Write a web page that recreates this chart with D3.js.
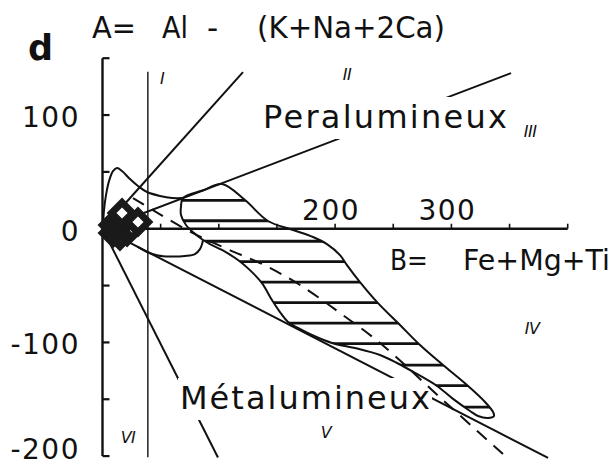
<!DOCTYPE html>
<html>
<head>
<meta charset="utf-8">
<script src="https://cdn.jsdelivr.net/npm/d3@7"></script>
<style>
  html, body { margin: 0; padding: 0; background: #fff; }
  svg { display: block; }
  text { font-family: "DejaVu Sans", Verdana, sans-serif; fill: #111; }
</style>
</head>
<body>
<svg id="chart" width="615" height="467"></svg>
<script>
// ---- Axis ticks (B = Fe+Mg+Ti, A = Al-(K+Na+2Ca)) ----
const yTicks = [150, 100, 50, 0, -50, -100, -150, -200];
const yTickLabels = [100, 0, -100, -200];
const xTicks = [50, 100, 150, 200, 250, 300, 350, 400];
const xTickLabels = [200, 300];

// ---- Sector boundaries, rays from the origin [B, A] ----
const sectorRays = [
  [120.8, 137.8],   // I / II
  [351.3, 136.9],   // II / III
  [383.1, -201.6],  // IV / V
  [99.3, -201.2]    // V / VI
];
// vertical limit of sector I / VI
const leucoLimitB = 39;
const leucoLimitA = [138, -201];

// ---- Sector numerals and their anchors [B, A] ----
const sectorNames = ["I", "II", "III", "IV", "V", "VI"];
const sectorAnchors = [[51.2, 132.5], [210.2, 136], [367.6, 86], [369.4, -88], [192.2, -178.8], [21.9, -183.2]];

// ---- Hatched field (outline as [B, A]) ----
const hatchedField = [
  [69.2, 27.0], [86.0, 33.6], [102.7, 39.3], [122.5, 25.2], [142.3, 6.8], [163.8, -1.1],
  [181.0, -7.3], [193.0, -13.5], [204.2, -23.2], [210.2, -32.0], [221.4, -47.0],
  [236.9, -65.5], [255.8, -84.7], [273.0, -102.3], [292.8, -119.9], [313.4, -137.5],
  [328.9, -152.4], [335.8, -161.2], [336.6, -164.7], [331.5, -166.5], [322.9, -164.7],
  [316.0, -160.3], [301.4, -149.7], [287.6, -138.3], [268.7, -126.8], [253.2, -118.1],
  [238.6, -111.1], [217.1, -104.9], [197.3, -100.5], [180.1, -93.5], [168.1, -87.3],
  [159.5, -82.0], [152.6, -73.3], [145.7, -62.7], [137.1, -47.8], [126.8, -36.4],
  [116.5, -27.5], [102.7, -18.7], [92.4, -13.5], [86.4, -9.9], [78.7, -3.8],
  [71.8, 3.3], [67.5, 12.0], [67.5, 19.9]
];
const hatchLevels = [25, 7, -11, -29, -47, -65, -83, -101, -120, -138, -157];

// ---- Envelope lobes joining the hatched field ----
const upperLobe = [
  [0.4, 2.4], [1.3, 16.4], [3.0, 29.6], [5.6, 41.9], [9.0, 50.7], [12.5, 53.4],
  [16.8, 50.7], [23.6, 43.7], [30.5, 37.6], [38.3, 32.3], [49.4, 28.8], [59.8, 27.0], [69.2, 27.0]
];
const lowerLobe = [
  [30.0, -15.8], [38.3, -20.5], [47.7, -23.6], [58.0, -24.5], [70.9, -24.0],
  [79.5, -22.3], [83.8, -17.9], [85.6, -13.5], [86.4, -9.9]
];

// ---- Trend (dashed) ----
const trend = [
  [26.2, 27.0], [72.7, -1.1], [105.3, -17.0], [137.1, -31.0], [169.8, -49.5],
  [204.2, -74.1], [238.6, -100.5], [294.5, -152.4], [344.4, -198.2]
];

// ---- Leucogranite samples [B, A]; the last two sit on top of the cluster ----
const samples = [
  [9.0, 3.3], [9.0, -3.8], [11.6, -0.3], [15.0, -6.4], [21.1, -2.9],
  [16.8, 13.8], [30.5, 5.9]
];

// ------------------------------------------------------------
const svg = d3.select("#chart");
svg.append("rect").attr("width", 615).attr("height", 467).attr("fill", "#fff");

const x = d3.scaleLinear().domain([0, 400]).range([102.5, 567.7]);
const y = d3.scaleLinear().domain([-200, 150]).range([456.1, 58.2]);

const line = d3.line().x(d => x(d[0])).y(d => y(d[1]));
const smooth = d3.line().x(d => x(d[0])).y(d => y(d[1])).curve(d3.curveCatmullRom.alpha(0.5));
const smoothClosed = d3.line().x(d => x(d[0])).y(d => y(d[1])).curve(d3.curveCatmullRomClosed.alpha(0.5));

// sector rays
const rays = svg.append("g").attr("stroke", "#111").attr("stroke-width", 2).attr("fill", "none");
sectorRays.forEach(end => rays.append("path").attr("d", line([[0, 0], end])));
rays.append("line")
  .attr("x1", x(leucoLimitB)).attr("x2", x(leucoLimitB))
  .attr("y1", y(leucoLimitA[0])).attr("y2", y(leucoLimitA[1]))
  .attr("stroke-width", 1.4);

// domain labels with a white backing that interrupts the rays
function boxedLabel(txt, px, py, size, len) {
  const g = svg.append("g");
  const t = g.append("text").attr("x", px).attr("y", py)
    .attr("font-size", size).attr("textLength", len).attr("lengthAdjust", "spacing").text(txt);
  const b = t.node().getBBox();
  g.insert("rect", "text").attr("x", b.x - 2).attr("y", b.y - 1)
    .attr("width", b.width + 4).attr("height", b.height + 4).attr("fill", "#fff");
}
boxedLabel("Peralumineux", 263, 128, 32, 244);
boxedLabel("Métalumineux", 180, 409, 32, 250);

// sector numerals
svg.append("g").selectAll("text").data(sectorNames).join("text")
  .attr("x", (d, i) => x(sectorAnchors[i][0]))
  .attr("y", (d, i) => y(sectorAnchors[i][1]))
  .attr("dy", "0.35em").attr("text-anchor", "middle")
  .attr("font-size", 16).attr("font-style", "italic").attr("letter-spacing", -0.5)
  .text(d => d);

// hatched field
svg.append("clipPath").attr("id", "fieldClip")
  .append("path").attr("d", smoothClosed(hatchedField));
svg.append("g").attr("clip-path", "url(#fieldClip)")
  .selectAll("line").data(hatchLevels).join("line")
  .attr("x1", x(0)).attr("x2", x(400))
  .attr("y1", d => y(d)).attr("y2", d => y(d))
  .attr("stroke", "#111").attr("stroke-width", 2.8);
svg.append("path").attr("d", smoothClosed(hatchedField))
  .attr("fill", "none").attr("stroke", "#111").attr("stroke-width", 2);

// envelope lobes
[upperLobe, lowerLobe].forEach(p =>
  svg.append("path").attr("d", smooth(p))
    .attr("fill", "none").attr("stroke", "#111").attr("stroke-width", 2));

// dashed trend
svg.append("path").attr("d", smooth(trend))
  .attr("fill", "none").attr("stroke", "#111").attr("stroke-width", 2)
  .attr("stroke-dasharray", "13,9");

// axes
const axes = svg.append("g").attr("stroke", "#111").attr("fill", "none");
axes.append("line").attr("x1", x(0)).attr("x2", x(0))
  .attr("y1", y(150)).attr("y2", y(-200)).attr("stroke-width", 2.4);
axes.selectAll(".yt").data(yTicks).join("line")
  .attr("x1", x(0)).attr("x2", x(0) + 7)
  .attr("y1", d => y(d)).attr("y2", d => y(d)).attr("stroke-width", 2.2);
axes.append("line").attr("x1", x(0)).attr("x2", x(400))
  .attr("y1", y(0)).attr("y2", y(0)).attr("stroke-width", 2.4);
axes.selectAll(".xt").data(xTicks).join("line")
  .attr("x1", d => x(d)).attr("x2", d => x(d))
  .attr("y1", y(0)).attr("y2", y(0) - 5).attr("stroke-width", 1.6);

svg.append("g").selectAll("text").data(yTickLabels).join("text")
  .attr("x", 80).attr("y", d => Math.min(y(d) + 12, 459))
  .attr("text-anchor", "end").attr("font-size", 28).attr("letter-spacing", 1.5)
  .text(d => d < 0 ? "-" + Math.abs(d) : d);
svg.append("g").selectAll("text").data(xTickLabels).join("text")
  .attr("x", d => x(d) - 4).attr("y", 220)
  .attr("text-anchor", "middle").attr("font-size", 28).attr("letter-spacing", 1.5)
  .text(d => d);

// samples: open diamonds, dense enough to merge into a dark cluster
svg.append("g").selectAll("path").data(samples).join("path")
  .attr("d", d3.symbol(d3.symbolSquare, 220))
  .attr("transform", d => `translate(${x(d[0])},${y(d[1])}) rotate(45)`)
  .attr("fill", (d, i) => i >= samples.length - 2 ? "#fff" : "none")
  .attr("stroke", "#1a1a1a").attr("stroke-width", 7);

// titles
svg.append("text").attr("x", 28).attr("y", 60).attr("font-size", 35).attr("font-weight", "bold").text("d");
const title = svg.append("text").attr("y", 38).attr("font-size", 31);
title.append("tspan").attr("x", 92).attr("textLength", 44).attr("lengthAdjust", "spacingAndGlyphs").text("A=");
title.append("tspan").attr("x", 162).attr("textLength", 26).attr("lengthAdjust", "spacingAndGlyphs").text("Al");
title.append("tspan").attr("x", 207).text("-");
title.append("tspan").attr("x", 257).attr("textLength", 188).attr("lengthAdjust", "spacingAndGlyphs").text("(K+Na+2Ca)");

const bt = svg.append("text").attr("y", 270).attr("font-size", 29);
bt.append("tspan").attr("x", 390).attr("textLength", 38).attr("lengthAdjust", "spacingAndGlyphs").text("B=");
bt.append("tspan").attr("x", 463).attr("textLength", 147).attr("lengthAdjust", "spacingAndGlyphs").text("Fe+Mg+Ti");
</script>
</body>
</html>
